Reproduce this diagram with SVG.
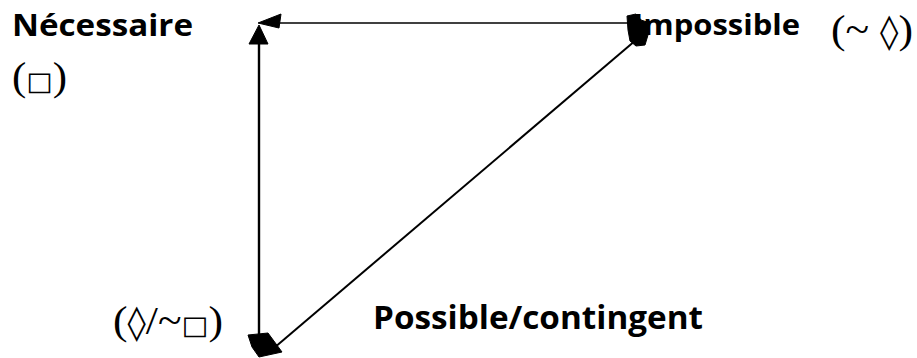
<svg xmlns="http://www.w3.org/2000/svg" width="917" height="358" viewBox="0 0 917 358">
<style>
.lbl{font-family:"Open Sans","Noto Sans","Liberation Sans",sans-serif;font-weight:bold;fill:#000}
.sym{font-family:"Liberation Serif","DejaVu Serif",serif;fill:#000}
.gl{font-family:"DejaVu Sans",sans-serif}
.ln{stroke:#000;fill:none}
.hd{fill:#000;stroke:#000;stroke-width:1;stroke-linejoin:round}
</style>
<rect width="917" height="358" fill="#fff"/>
<g id="connectors">
<line class="ln" x1="630" y1="23" x2="272" y2="23" stroke-width="1.6"/>
<polygon class="hd" points="258,23 281,14 279,28"/>
<line class="ln" x1="259" y1="340" x2="259" y2="40" stroke-width="2.4"/>
<polygon class="hd" points="259,25 268,44 249,44"/>
<line class="ln" x1="274" y1="348" x2="636" y2="40" stroke-width="2"/>
<polygon class="hd" points="248,335 268,333 282,352 259,357 252,347"/>
<polygon class="hd" points="627,16 636,14 641,20 647,22 648,35 645,45 636,46 630,41 628,30"/>
</g>
<g id="n-necessaire">
<text class="lbl" x="12" y="36" font-size="31" textLength="181" lengthAdjust="spacingAndGlyphs">Nécessaire</text>
<text class="sym" x="12" y="90" font-size="40" textLength="55" lengthAdjust="spacingAndGlyphs">(<tspan class="gl" font-size="26">□</tspan>)</text>
</g>
<g id="n-impossible">
<text class="lbl" x="633" y="35" font-size="28" textLength="167" lengthAdjust="spacingAndGlyphs">Impossible</text>
<text class="sym" x="831" y="43" font-size="40" textLength="82" lengthAdjust="spacingAndGlyphs">(~ <tspan class="gl" font-size="34">◊</tspan>)</text>
</g>
<g id="n-possible">
<text class="sym" x="113" y="334" font-size="40" textLength="110" lengthAdjust="spacingAndGlyphs">(<tspan class="gl" font-size="34">◊</tspan>/~<tspan class="gl" font-size="26">□</tspan>)</text>
<text class="lbl" x="373" y="329" font-size="32" textLength="330" lengthAdjust="spacingAndGlyphs">Possible/contingent</text>
</g>
</svg>
